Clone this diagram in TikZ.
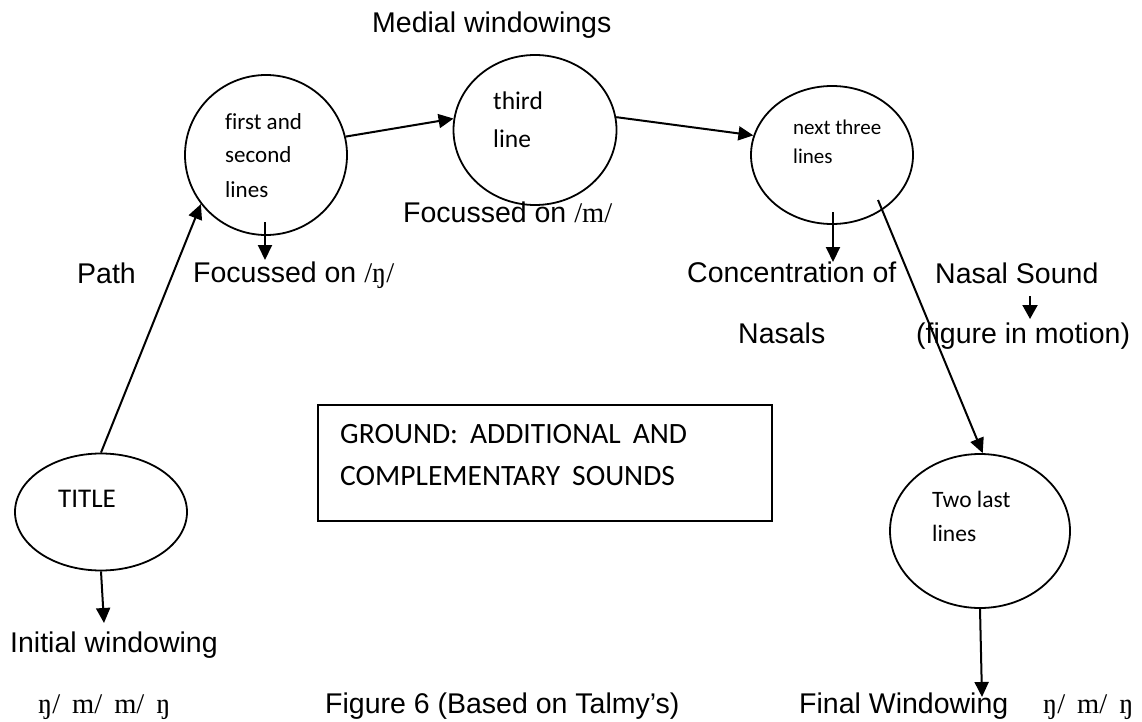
\documentclass[tikz,border=0pt]{standalone}
\usepackage{fontspec}
\setmainfont{Liberation Sans}
\newfontfamily\calfont[Ligatures=NoCommon]{Carlito}
\newfontfamily\ipafont{Liberation Serif}
\usetikzlibrary{shapes.geometric,arrows.meta,calc}
\newcommand\lbl{\fontsize{28.5pt}{34pt}\selectfont}
\newcommand\ipa[1]{{\ipafont #1}}
\begin{document}
\begin{tikzpicture}[x=1pt,y=-1pt,
  bubble/.style={draw,line width=1.8pt,ellipse,inner sep=0pt},
  frame/.style={draw,line width=1.8pt,rectangle,inner sep=0pt},
  txt/.style={anchor=base west,inner sep=0pt,font=\lbl},
  intxt/.style={anchor=base west,inner sep=0pt},
  arr/.style={line width=2pt,-{Triangle[length=15pt,width=14pt]}},
  arrsmall/.style={line width=2pt,-{Triangle[length=14pt,width=15pt]}}]
\useasboundingbox (0,0) rectangle (1142,722);

% bubbles and the ground box
\node[bubble,minimum width=172pt,minimum height=117pt] (t)  at (101,512) {};
\node[bubble,minimum width=162pt,minimum height=160pt] (c1) at (266,155) {};
\node[bubble,minimum width=163pt,minimum height=150pt] (c2) at (535,130) {};
\node[bubble,minimum width=162pt,minimum height=138pt] (c3) at (832,155) {};
\node[bubble,minimum width=180pt,minimum height=154pt] (c4) at (980,531) {};
\node[frame,minimum width=454pt,minimum height=116pt] (g) at (545,463) {};

% text inside the bubbles and the box
\node[intxt,font=\calfont\fontsize{27pt}{32pt}\selectfont] (tt) at (58,507) {TITLE};
\node[intxt,font=\calfont\fontsize{23pt}{28pt}\selectfont] (c1a) at (225,130) {first and};
\node[intxt,font=\calfont\fontsize{23pt}{28pt}\selectfont] (c1b) at (225,163) {second};
\node[intxt,font=\calfont\fontsize{23pt}{28pt}\selectfont] (c1c) at (225,197) {lines};
\node[intxt,font=\calfont\fontsize{25.5pt}{30pt}\selectfont] (c2a) at (493,110) {third};
\node[intxt,font=\calfont\fontsize{25.5pt}{30pt}\selectfont] (c2b) at (493,148) {line};
\node[intxt,font=\calfont\fontsize{21pt}{25pt}\selectfont] (c3a) at (793,135) {next three};
\node[intxt,font=\calfont\fontsize{21pt}{25pt}\selectfont] (c3b) at (793,164) {lines};
\node[intxt,font=\calfont\fontsize{23.5pt}{28pt}\selectfont] (c4a) at (932,507) {Two last};
\node[intxt,font=\calfont\fontsize{23.5pt}{28pt}\selectfont] (c4b) at (932,541) {lines};
\node[intxt,font=\calfont\fontsize{29.5pt}{34pt}\selectfont] (g1) at (340,443) {GROUND:\hspace{12pt}ADDITIONAL\hspace{12pt}AND};
\node[intxt,font=\calfont\fontsize{29.5pt}{34pt}\selectfont] (g2) at (340,485) {COMPLEMENTARY\hspace{12pt}SOUNDS};

% labels
\node[txt] (medial) at (372,33) {Medial windowings};
\node[txt] (path) at (77,283) {Path};
\node[txt] (fng) at (193,282) {Focussed on \ipa{/ŋ/}};
\node[txt] (fm) at (403,222) {Focussed on \ipa{/m/}};
\node[txt] (conc) at (687,282) {Concentration of};
\node[txt] (nasal) at (935,283) {Nasal Sound};
\node[txt] (nasals) at (738,343) {Nasals};
\node[txt] (motion) at (916,343) {(figure in motion)};
\node[txt] (initial) at (10,652) {Initial windowing};
\node[txt] (seq1) at (38,713) {\ipa{ŋ/\hspace{12pt}m/\hspace{12pt}m/\hspace{12pt}ŋ}};
\node[txt] (caption) at (325,713) {Figure 6 (Based on Talmy’s)};
\node[txt] (final) at (799,713) {Final Windowing};
\node[txt] (seq2) at (1043,713) {\ipa{ŋ/\hspace{12pt}m/\hspace{12pt}ŋ}};

% free ends of the short arrows
\coordinate (tipT) at (104,623);
\coordinate (tip1) at (265,260);
\coordinate (tip3) at (833,262);
\coordinate (nsA) at (1030,296);
\coordinate (nsB) at (1030,319);
\coordinate (tip4) at (982,697);

% connectors
\draw[arr] (t.north) -- (c1.217);
\draw[arr] (c1.13) -- (c2.172);
\draw[arr] (c2.9) -- (c3.166);
\draw[arr] ($(c3.center)+(46,45)$) -- (c4.88);
\draw[arr] (t.south) -- (tipT);
\draw[arr] ($(c1.center)+(-1,67)$) -- (tip1);
\draw[arr] ($(c3.center)+(1,57)$) -- (tip3);
\draw[arrsmall] (nsA) -- (nsB);
\draw[arr] (c4.south) -- (tip4);
\end{tikzpicture}
\end{document}
